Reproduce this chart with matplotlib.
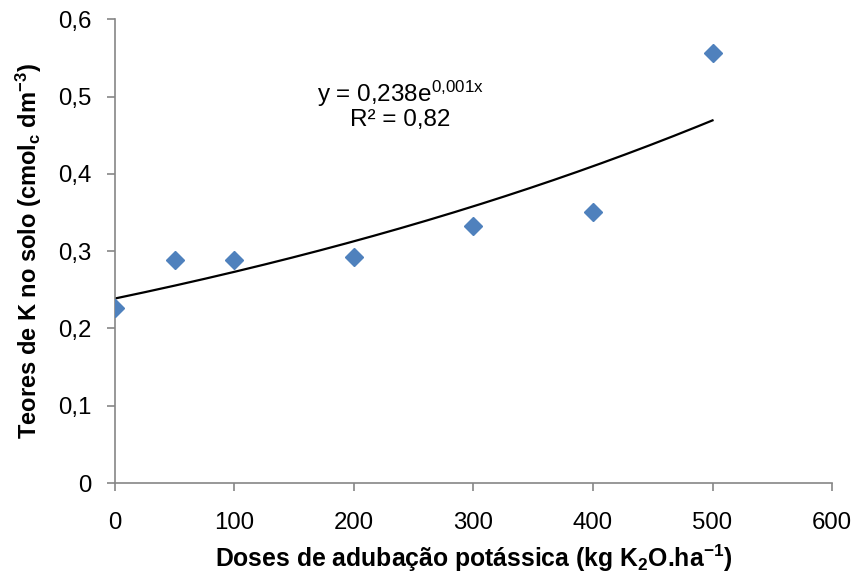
import numpy as np
import matplotlib.pyplot as plt

plt.rcParams['font.family'] = ['Liberation Sans', 'DejaVu Sans']
plt.rcParams['mathtext.fontset'] = 'custom'
plt.rcParams['mathtext.rm'] = 'Liberation Sans'
plt.rcParams['mathtext.it'] = 'Liberation Sans'
plt.rcParams['mathtext.bf'] = 'Liberation Sans:bold'

doses = [0, 50, 100, 200, 300, 400, 500]
teores = [0.226, 0.289, 0.289, 0.292, 0.333, 0.351, 0.557]

x_ticks = [0, 100, 200, 300, 400, 500, 600]
y_ticks = [0, 0.1, 0.2, 0.3, 0.4, 0.5, 0.6]
y_ticklabels = ['0', '0,1', '0,2', '0,3', '0,4', '0,5', '0,6']

# exponential trendline, fitted the same way as the spreadsheet (log-linear)
b, ln_a = np.polyfit(doses, np.log(teores), 1)
x_fit = np.linspace(0, 500, 200)
y_fit = np.exp(ln_a) * np.exp(b * x_fit)

fig = plt.figure(figsize=(8.56, 5.79), dpi=100)
ax = fig.add_axes([0.1343, 0.1658, 0.972 - 0.1343, 0.9667 - 0.1658])

ax.plot(x_fit, y_fit, color='black', lw=1.6, zorder=2)
ax.plot(doses, teores, linestyle='none', marker='D', ms=9.5,
        color='#4F81BD', markeredgecolor='#4F81BD', zorder=3)

ax.set_xlim(0, 600)
ax.set_ylim(0, 0.6)
ax.set_xticks(x_ticks)
ax.set_xticklabels([str(t) for t in x_ticks])
ax.set_yticks(y_ticks)
ax.set_yticklabels(y_ticklabels)

for side in ['top', 'right']:
    ax.spines[side].set_visible(False)
for side in ['left', 'bottom']:
    ax.spines[side].set_color('#868686')
    ax.spines[side].set_linewidth(1.2)
ax.tick_params(axis='both', direction='out', length=6, width=1.2,
               color='#868686', labelsize=17.3, labelcolor='black')
ax.tick_params(axis='x', pad=15)
ax.tick_params(axis='y', pad=11)

ax.set_xlabel(r'Doses de adubação potássica (kg K$_\mathbf{2}$O.ha$^\mathbf{-1}$)',
              fontsize=17.8, fontweight='bold', labelpad=6)
ax.set_ylabel(r'Teores de K no solo (cmol$_\mathbf{c}$ dm$^\mathbf{-3}$)',
              fontsize=17, fontweight='bold', labelpad=10)

ax.text(239, 0.503, r'y = 0,238e$^{\mathrm{0{,}001x}}$', ha='center', va='center', fontsize=17.5)
ax.text(239, 0.470, 'R² = 0,82', ha='center', va='center', fontsize=17.5)

fig.savefig('out.png', dpi=100)
